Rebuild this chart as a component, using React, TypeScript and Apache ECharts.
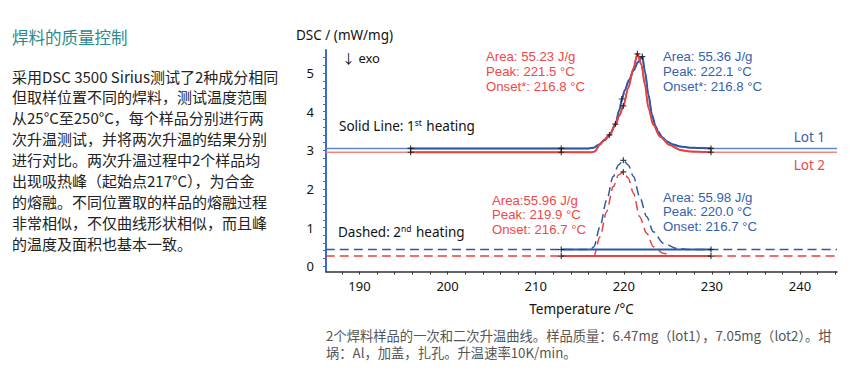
import React, { useEffect, useRef } from 'react';
import * as echarts from 'echarts';

// ---------- data ----------
const xTicks = [190, 200, 210, 220, 230, 240];
const xMinorTicks = [188, 190, 192, 194, 196, 198, 200, 202, 204, 206, 208, 210, 212, 214, 216, 218, 220, 222, 224, 226, 228, 230, 232, 234, 236, 238, 240, 242, 244];
const yTicks = [0, 1, 2, 3, 4, 5];
const yMinorTicks = [0, 0.2, 0.4, 0.6, 0.8, 1, 1.2, 1.4, 1.6, 1.8, 2, 2.2, 2.4, 2.6, 2.8, 3, 3.2, 3.4, 3.6, 3.8, 4, 4.2, 4.4, 4.6, 4.8, 5, 5.2, 5.4];
const xRange = [186.2, 244.2];
const yRange = [-0.14, 5.6];

// 1st heating (solid)
const lot1Heat1: number[][] = [
  [186.2, 3.05], [195.8, 3.05], [212.9, 3.05], [216.0, 3.05], [216.6, 3.07], [217.2, 3.15],
  [217.8, 3.26], [218.4, 3.40], [219.05, 3.68], [219.5, 4.05], [219.8, 4.33], [220.1, 4.55],
  [220.6, 4.82], [221.1, 5.07], [221.6, 5.28], [222.1, 5.43], [222.4, 5.04], [222.8, 4.44],
  [223.2, 3.92], [223.6, 3.63], [223.9, 3.48], [224.4, 3.33], [224.9, 3.23], [225.6, 3.15],
  [226.4, 3.10], [227.5, 3.07], [228.6, 3.06], [229.9, 3.05], [244.2, 3.05],
];
const lot2Heat1: number[][] = [
  [186.2, 2.95], [195.8, 2.95], [212.9, 2.95], [216.3, 2.95], [216.7, 2.97], [217.3, 3.15],
  [217.8, 3.28], [218.4, 3.40], [219.05, 3.66], [219.5, 3.90], [219.95, 4.15], [220.5, 4.61],
  [221.1, 5.13], [221.55, 5.50], [222.0, 5.22], [222.4, 4.70], [222.8, 4.10], [223.35, 3.66],
  [224.1, 3.36], [225.2, 3.14], [226.4, 3.01], [227.5, 2.97], [229.9, 2.95], [244.2, 2.95],
];
// 2nd heating (dashed)
const lot1Heat2: number[][] = [
  [186.2, 0.43], [212.9, 0.43], [216.2, 0.43], [216.6, 0.50], [217.3, 1.02], [218.05, 1.71],
  [218.8, 2.32], [219.4, 2.62], [219.95, 2.74], [220.5, 2.62], [221.1, 2.32], [221.8, 1.80],
  [222.6, 1.28], [223.35, 0.89], [224.5, 0.59], [226.0, 0.46], [227.5, 0.43], [229.9, 0.43],
  [244.2, 0.43],
];
const lot2Heat2: number[][] = [
  [186.2, 0.26], [212.9, 0.26], [216.6, 0.26], [217.3, 0.76], [218.05, 1.41], [218.8, 2.06],
  [219.4, 2.36], [219.95, 2.44], [220.5, 2.28], [221.1, 1.89], [221.8, 1.28], [222.6, 0.85],
  [223.35, 0.50], [224.5, 0.33], [225.6, 0.27], [227.0, 0.26], [229.9, 0.26], [244.2, 0.26],
];
const evalRange1 = [195.8, 229.9];
const evalRange2 = [212.9, 229.9];
const baseLot1Heat2 = 0.43;
const baseLot2Heat2 = 0.26;

const evalMarks: number[][] = [
  [195.8, 3.05], [195.8, 2.95], [212.9, 3.05], [212.9, 2.95], [229.9, 3.05], [229.9, 2.95],
  [218.37, 3.40], [219.05, 3.68], [219.76, 4.33], [219.94, 4.15], [221.55, 5.50], [222.1, 5.43],
  [212.9, 0.43], [212.9, 0.26], [229.9, 0.43], [229.9, 0.26], [219.95, 2.74], [219.95, 2.44],
];

const redNotes1 = ['Area: 55.23 J/g', 'Peak: 221.5 °C', 'Onset*: 216.8 °C'];
const blueNotes1 = ['Area: 55.36 J/g', 'Peak: 222.1 °C', 'Onset*: 216.8 °C'];
const redNotes2 = ['Area:55.96 J/g', 'Peak: 219.9 °C', 'Onset: 216.7 °C'];
const blueNotes2 = ['Area: 55.98 J/g', 'Peak: 220.0 °C', 'Onset: 216.7 °C'];

const titleText = '焊料的质量控制';
const paragraph = [
  '采用DSC 3500 Sirius测试了2种成分相同',
  '但取样位置不同的焊料，测试温度范围',
  '从25°C至250°C，每个样品分别进行两',
  '次升温测试，并将两次升温的结果分别',
  '进行对比。两次升温过程中2个样品均',
  '出现吸热峰（起始点217°C），为合金',
  '的熔融。不同位置取的样品的熔融过程',
  '非常相似，不仅曲线形状相似，而且峰',
  '的温度及面积也基本一致。',
];
const caption = [
  '2个焊料样品的一次和二次升温曲线。样品质量：6.47mg（lot1），7.05mg（lot2）。坩',
  '埚：Al，加盖，扎孔。升温速率10K/min。',
];

// ---------- styles ----------
const BLUE = '#2c58a8';
const BLUE_L = '#5f86d0';
const RED = '#e8403f';
const RED_L = '#f08585';
const RED_T = '#ee4848';
const BLUE_T = '#3560ad';
const FONT = '"Noto Sans", "Noto Sans CJK SC", sans-serif';
const NOTE_FONT = '"Liberation Sans", "Noto Sans", sans-serif';
const CJK = '"Noto Sans CJK SC", "Noto Sans", sans-serif';

const inRange = (d: number[][], r: number[]) => d.filter(p => p[0] >= r[0] && p[0] <= r[1]);

function txt(x: number, y: number, text: string, fill: string, size = 13, extra: any = {}) {
  return {
    type: 'text', x, y, silent: true,
    style: { text, fill, fontSize: size, fontFamily: FONT, verticalAlign: 'middle', ...extra },
  };
}
function notes(x: number, yFirst: number, lines: string[], fill: string) {
  return lines.map((t, i) => txt(x, yFirst + i * 14.8, t, fill, 13.2, { fontFamily: NOTE_FONT }));
}

export default function App() {
  const ref = useRef<HTMLDivElement>(null);
  useEffect(() => {
    const chart = echarts.init(ref.current!, null, { renderer: 'svg' });
    const plus = 'path://M4,0h2v4h4v2h-4v4h-2v-4h-4v-2h4z';
    const lineBase = { type: 'line', showSymbol: false, smooth: 0.3, smoothMonotone: 'x', silent: true };

    const graphics: any[] = [];
    graphics.push({
      type: 'text', x: 12, y: 37,
      style: { text: titleText, fill: '#2a8a8c', fontSize: 16.5, fontFamily: CJK, verticalAlign: 'middle' },
    });
    paragraph.forEach((line, i) => {
      graphics.push({
        type: 'text', x: 12, y: 76 + i * 20.9,
        style: { text: line, fill: '#222', fontSize: 15, fontFamily: CJK, verticalAlign: 'middle' },
      });
    });
    caption.forEach((line, i) => {
      graphics.push({
        type: 'text', x: 326, y: 335 + i * 17.5,
        style: { text: line, fill: '#555', fontSize: 13.3, fontFamily: CJK, verticalAlign: 'middle' },
      });
    });
    graphics.push(txt(296, 35, 'DSC / (mW/mg)', '#111', 13.5));
    graphics.push(txt(342, 58, '↓ exo', '#111', 13));
    graphics.push(...notes(486, 56.7, redNotes1, RED_T));
    graphics.push(...notes(663, 56.7, blueNotes1, BLUE_T));
    graphics.push(...notes(492, 200, redNotes2, RED_T));
    graphics.push(...notes(663, 197, blueNotes2, BLUE_T));
    graphics.push({
      type: 'text', x: 339, y: 126, silent: true,
      style: {
        text: '{a|Solid Line: 1}{s|st}{a| heating}',
        verticalAlign: 'middle',
        rich: {
          a: { fontSize: 13.5, fontFamily: FONT, fill: '#111', lineHeight: 16 },
          s: { fontSize: 8.5, fontFamily: FONT, fill: '#111', lineHeight: 16, verticalAlign: 'top', padding: [0, 1, 6, 0] },
        },
      },
    });
    graphics.push({
      type: 'text', x: 338, y: 232, silent: true,
      style: {
        text: '{a|Dashed: 2}{s|nd}{a| heating}',
        verticalAlign: 'middle',
        rich: {
          a: { fontSize: 13.5, fontFamily: FONT, fill: '#111', lineHeight: 16 },
          s: { fontSize: 8.5, fontFamily: FONT, fill: '#111', lineHeight: 16, verticalAlign: 'top', padding: [0, 1, 6, 0] },
        },
      },
    });
    graphics.push(txt(825, 137, 'Lot 1', BLUE_T, 13.5, { align: 'right' }));
    graphics.push(txt(825, 165, 'Lot 2', RED_T, 13.5, { align: 'right' }));

    chart.setOption({
      animation: false,
      backgroundColor: '#fff',
      grid: { left: 326, right: 14, top: 50, bottom: 99.5, containLabel: false },
      xAxis: {
        type: 'value', min: xRange[0], max: xRange[1],
        name: 'Temperature /°C', nameLocation: 'middle', nameGap: 31,
        nameTextStyle: { fontSize: 13.5, fontFamily: FONT, color: '#111' },
        axisLine: { show: true, onZero: false, lineStyle: { color: '#333', width: 1.5 } },
        axisTick: { show: true, length: 3, customValues: xMinorTicks, lineStyle: { color: '#333' } },
        splitLine: { show: false },
        axisLabel: {
          fontSize: 13, fontFamily: FONT, color: '#111', margin: 8,
          customValues: xTicks,
        },
      },
      yAxis: {
        type: 'value', min: yRange[0], max: yRange[1],
        axisLine: { show: true, onZero: false, lineStyle: { color: '#3f6cc0', width: 2 } },
        axisTick: { show: true, length: 3, customValues: yMinorTicks, lineStyle: { color: '#3f6cc0' } },
        splitLine: { show: false },
        axisLabel: {
          fontSize: 13, fontFamily: FONT, color: '#111', margin: 12,
          customValues: yTicks,
        },
      },
      series: [
        { ...lineBase, data: lot1Heat1, lineStyle: { color: BLUE_L, width: 1.5 }, z: 2 },
        { ...lineBase, data: lot2Heat1, lineStyle: { color: RED_L, width: 1.5 }, z: 2 },
        { ...lineBase, data: inRange(lot1Heat1, evalRange1), lineStyle: { color: BLUE, width: 2 }, z: 3 },
        { ...lineBase, data: inRange(lot2Heat1, evalRange1), lineStyle: { color: RED, width: 2 }, z: 3 },
        { ...lineBase, data: lot1Heat2, lineStyle: { color: BLUE, width: 1.5, type: [9, 5] }, z: 2 },
        { ...lineBase, data: lot2Heat2, lineStyle: { color: RED, width: 1.5, type: [9, 5] }, z: 2 },
        { ...lineBase, smooth: false, data: evalRange2.map(t => [t, baseLot1Heat2]), lineStyle: { color: BLUE, width: 2 }, z: 3 },
        { ...lineBase, smooth: false, data: evalRange2.map(t => [t, baseLot2Heat2]), lineStyle: { color: RED, width: 2 }, z: 3 },
        {
          type: 'scatter', data: evalMarks, symbol: plus, symbolSize: 6, silent: true,
          itemStyle: { color: '#111' }, z: 5,
        },
      ],
      graphic: graphics,
    });
    return () => chart.dispose();
  }, []);
  return <div ref={ref} style={{ position: 'fixed', left: 0, top: 0, width: 851, height: 371 }} />;
}
